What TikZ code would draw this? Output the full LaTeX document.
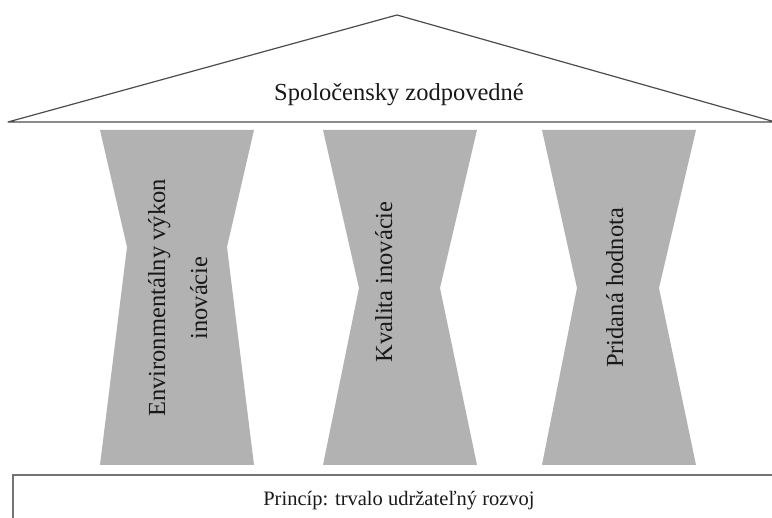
\documentclass[tikz,border=0pt]{standalone}
\usepackage{fontspec}
\setmainfont{Liberation Serif}
\begin{document}
\begin{tikzpicture}[x=1pt,y=1pt,
  roofline/.style={draw=black!70,line width=1.2pt,line join=round},
  pillar/.style={fill=black!30,draw=none},
  baseline/.style={draw=black!55,line width=2pt},
  lbl/.style={font=\fontsize{24.5}{28}\selectfont,text=black!90,inner sep=0pt},
  vlbl/.style={lbl,rotate=90,anchor=base}]
\useasboundingbox (0,0) rectangle (772,518);
% roof
\coordinate (rl) at (8,396);
\coordinate (rt) at (397,503);
\coordinate (rr) at (775,396);
\draw[roofline] (rl) -- (rt) -- (rr) -- cycle;
\node[lbl,anchor=base] (roof) at (399,417) {Spoločensky zodpovedné};
% pillars
\fill[pillar] (100,388) -- (254,388) -- (227,271) -- (254,53) -- (100,53) -- (127,271) -- cycle;
\fill[pillar] (323,388) -- (477,388) -- (440,230) -- (477,53) -- (323,53) -- (359,230) -- cycle;
\fill[pillar] (542,388) -- (696,388) -- (659,230) -- (696,53) -- (542,53) -- (577,230) -- cycle;
\node[vlbl] (p1a) at (165,220) {Environmentálny výkon};
\node[vlbl] (p1b) at (207,220) {inovácie};
\node[vlbl] (p2) at (392,236) {Kvalita inovácie};
\node[vlbl] (p3) at (623,230) {Pridaná hodnota};
% base
\coordinate (bl) at (13,-10);
\coordinate (btl) at (13,43);
\coordinate (btr) at (780,43);
\draw[baseline] (bl) -- (btl) -- (btr);
\node[lbl,anchor=base,font=\fontsize{20.5}{24}\selectfont] (base) at (399,12) {Princíp: trvalo udržateľný rozvoj};
\end{tikzpicture}
\end{document}
